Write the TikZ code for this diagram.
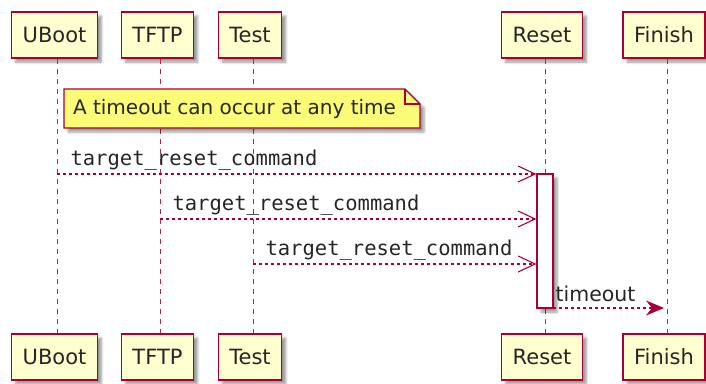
\documentclass[tikz,border=0pt]{standalone}
\usepackage{fontspec}
\setmainfont{DejaVu Sans}
\setmonofont{DejaVu Sans Mono}
\usetikzlibrary{arrows.meta,shadows.blur}
\definecolor{seqred}{HTML}{A80036}
\definecolor{seqbox}{HTML}{FEFECE}
\definecolor{seqnote}{HTML}{FBFB77}
\begin{document}
\begin{tikzpicture}[x=1pt,y=-1pt]
\tikzstyle{party}=[draw=seqred,fill=seqbox,line width=1.5pt,minimum height=46pt,inner xsep=11pt,text=black!85,font=\fontsize{21}{25}\selectfont,blur shadow={shadow xshift=4pt,shadow yshift=-4pt,shadow blur radius=2.5pt}]
\tikzstyle{life}=[draw=seqred!85,line width=1pt,dash pattern=on 5pt off 5pt]
\tikzstyle{msg}=[draw=seqred,line width=1.1pt,dash pattern=on 3pt off 3pt,-{Straight Barb[length=17pt,width=16pt,line width=1.1pt]}]
\tikzstyle{lbl}=[font=\fontsize{20.5}{24}\selectfont,text=black!85,inner sep=0pt,anchor=base west]

\useasboundingbox (0,0) rectangle (706,383);

% participants, top and bottom
\node[party] (ubootT) at (54.5,35) {UBoot};
\node[party] (tftpT) at (157.5,35) {TFTP};
\node[party] (testT) at (250,35) {Test};
\node[party] (resetT) at (542,35) {Reset};
\node[party] (finishT) at (664,35) {Finish};

\node[party] (ubootB) at (54.5,357) {UBoot};
\node[party] (tftpB) at (157.5,357) {TFTP};
\node[party] (testB) at (250,357) {Test};
\node[party] (resetB) at (542,357) {Reset};
\node[party] (finishB) at (664,357) {Finish};

% lifelines
\foreach \p in {uboot,tftp,test,reset,finish}
  \draw[life] ([xshift=3pt]\p T.south) -- ([xshift=3pt]\p B.north);

% note
\draw[draw=seqred,fill=seqnote,line width=1.2pt,blur shadow={shadow xshift=4pt,shadow yshift=-4pt,shadow blur radius=2.5pt}]
  (64,89) -- (405,89) -- (420,104) -- (420,128) -- (64,128) -- cycle;
\draw[seqred,line width=1.2pt] (405,89) -- (405,104) -- (420,104);
\node[font=\fontsize{20}{24}\selectfont,text=black!85,inner sep=0pt] (note) at (234.5,108.5) {A timeout can occur at any time};

% activation
\node[draw=seqred,fill=white,line width=1.2pt,minimum width=16pt,minimum height=134pt,inner sep=0pt,blur shadow={shadow xshift=4pt,shadow yshift=-4pt,shadow blur radius=2.5pt}] (act) at (545,241) {};

% messages
\coordinate (m1) at (57,174);
\coordinate (m2) at (160,219);
\coordinate (m3) at (253,264);
\coordinate (m4) at (553,308);

\draw[msg] (m1) -- (m1 -| act.west) node[lbl,pos=0,xshift=13pt,yshift=9pt] {\ttfamily target\_reset\_command};
\draw[msg] (m2) -- (m2 -| act.west) node[lbl,pos=0,xshift=12pt,yshift=9pt] {\ttfamily target\_reset\_command};
\draw[msg] (m3) -- (m3 -| act.west) node[lbl,pos=0,xshift=12pt,yshift=9pt] {\ttfamily target\_reset\_command};
\draw[draw=seqred,line width=1.1pt,dash pattern=on 3pt off 3pt,-{Stealth[length=18pt,width=15pt,inset=6pt,fill=seqred]}]
  (m4) -- (m4 -| finishT.south) node[lbl,pos=0,xshift=2pt,yshift=7pt] {timeout};

\end{tikzpicture}
\end{document}
